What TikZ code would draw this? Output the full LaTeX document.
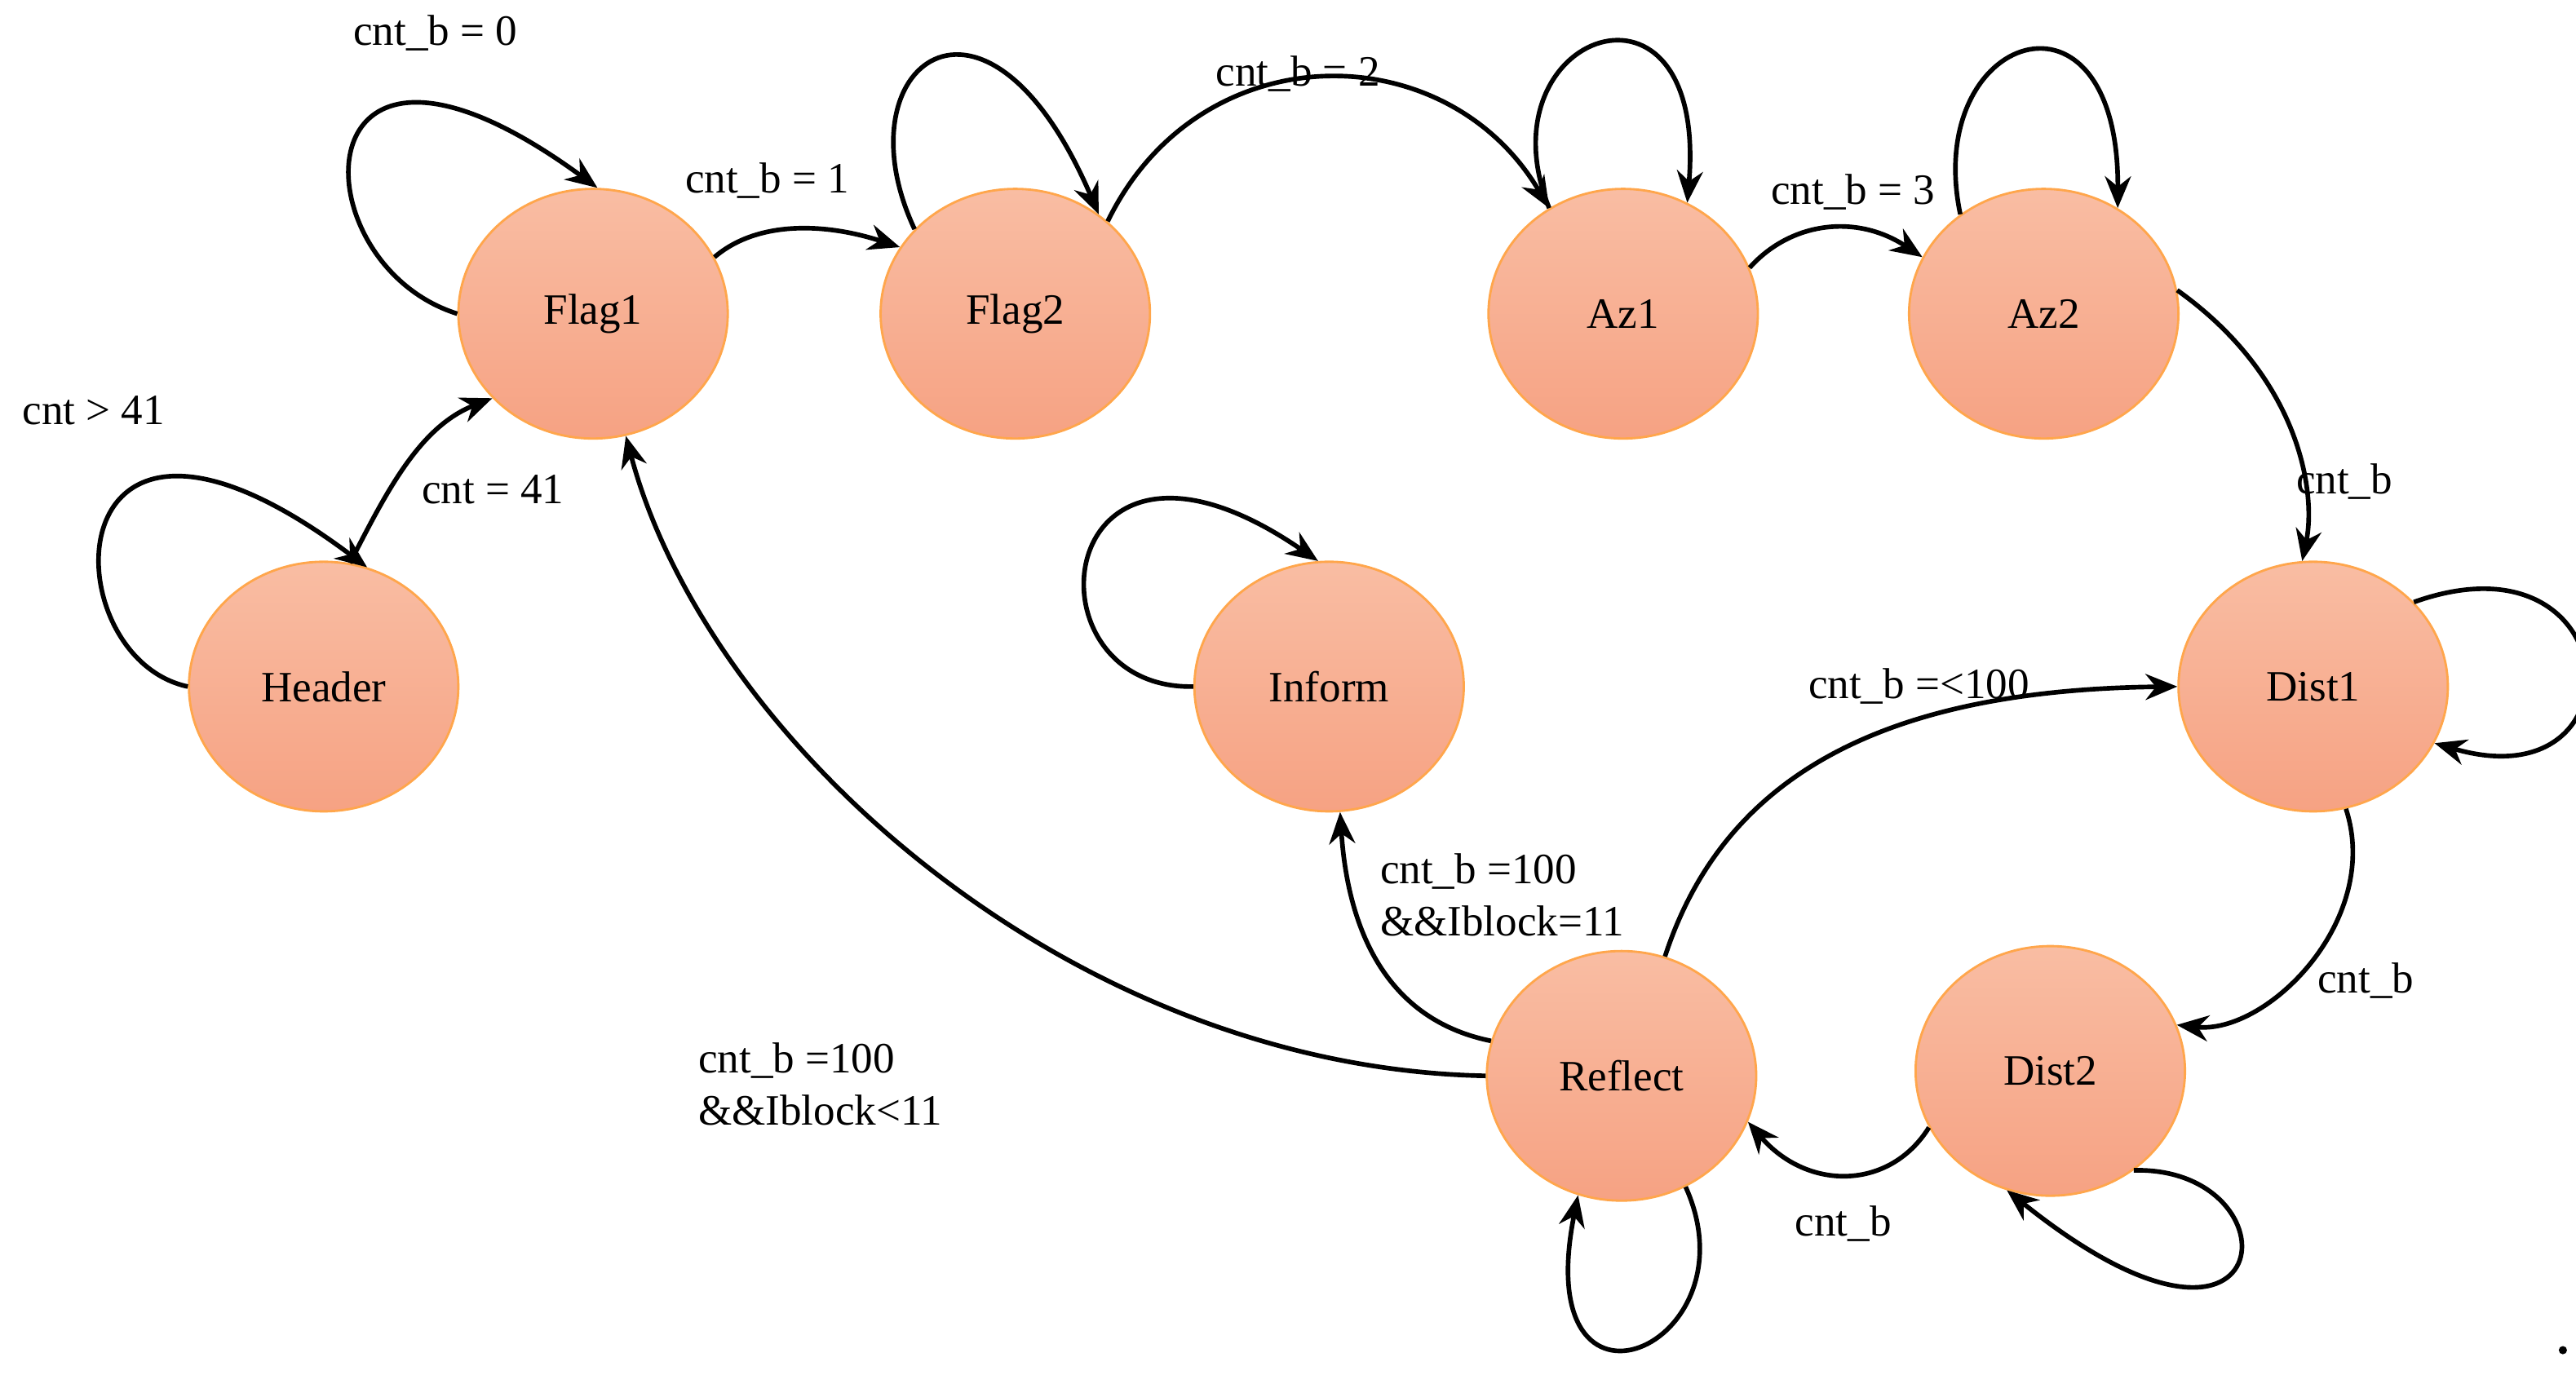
\documentclass[tikz,border=0pt]{standalone}
\usepackage{fontspec}
\setmainfont{Liberation Serif}
\usetikzlibrary{shapes.geometric,arrows.meta}
\begin{document}
\begin{tikzpicture}[x=0.02cm,y=-0.02cm,
  st/.style={ellipse,minimum width=3.28cm,minimum height=3.04cm,draw=orange!70!white,line width=0.8pt,
    top color=stA,bottom color=stB,inner sep=0pt,font=\fontsize{15}{18}\selectfont},
  e/.style={line width=1.6pt,-{Stealth[length=11pt,width=9pt]}},
  lb/.style={font=\fontsize{15}{18}\selectfont,inner sep=1pt}]
\definecolor{stA}{HTML}{F9BDA3}
\definecolor{stB}{HTML}{F6A283}
\useasboundingbox (0,0) rectangle (1568,837);
\node[st] (f1) at (361,191) {Flag1};
\node[st] (f2) at (618,191) {Flag2};
\node[st] (a1) at (988,191) {Az1};
\node[st] (a2) at (1244,191) {Az2};
\node[st] (h) at (197,418) {Header};
\node[st] (in) at (809,418) {Inform};
\node[st] (d1) at (1408,418) {Dist1};
\node[st] (r) at (987,655) {Reflect};
\node[st] (d2) at (1248,652) {Dist2};
% Header
\draw[e] (h.west) .. controls (30,400) and (30,200) .. (h.70);
\draw[e] (h.78) .. controls (235,300) and (255,260) .. (f1.220);
\node[lb] at (57,250) {cnt > 41};
\node[lb] at (300,298) {cnt = 41};
% Flag1
\draw[e] (f1.west) .. controls (180,160) and (180,-20) .. (f1.88);
\node[lb] at (265,20) {cnt\_b = 0};
\draw[e] (f1.25) .. controls (460,135) and (500,135) .. (f2.150);
\node[lb] at (467,110) {cnt\_b = 1};
% Flag2
\draw[e] (f2.140) .. controls (510,40) and (600,-30) .. (f2.50);
\draw[e] (f2.45) .. controls (730,20) and (880,20) .. (a1.125);
\node[lb] at (790,45) {cnt\_b = 2};
% Az1
\draw[e] (a1.125) .. controls (900,20) and (1040,-30) .. (a1.60);
\draw[e] (a1.20) .. controls (1090,135) and (1130,130) .. (a2.155);
\node[lb] at (1128,117) {cnt\_b = 3};
% Az2
\draw[e] (a2.130) .. controls (1170,20) and (1290,-20) .. (a2.55);
\draw[e] (a2.10) .. controls (1400,230) and (1410,300) .. (d1.95);
\node[lb] at (1427,293) {cnt\_b};
% Dist1
\draw[e] (d1.40) .. controls (1600,320) and (1610,490) .. (d1.-25);
\draw[e] (d1.-75) .. controls (1450,560) and (1380,630) .. (d2.20);
\node[lb] at (1440,597) {cnt\_b};
% Dist2
\draw[e] (d2.-50) .. controls (1400,710) and (1390,860) .. (d2.-110);
\draw[e] (d2.205) .. controls (1150,725) and (1100,725) .. (r.-20);
\node[lb] at (1122,745) {cnt\_b};
% Reflect
\draw[e] (r.-60) .. controls (1070,820) and (930,880) .. (r.-110);
\draw[e] (r.70) .. controls (1050,470) and (1150,420) .. (d1.west);
\node[lb] at (1168,418) {cnt\_b =<100};
\draw[e] (r.165) .. controls (840,620) and (820,560) .. (in.-85);
\node[lb,align=left,anchor=west] at (838,545) {cnt\_b =100\\\&\&Iblock=11};
\draw[e] (r.west) .. controls (650,650) and (430,450) .. (f1.-75);
\node[lb,align=left,anchor=west] at (423,660) {cnt\_b =100\\\&\&Iblock<11};
% Inform
\draw[e] (in.west) .. controls (620,420) and (640,230) .. (in.95);
\fill (1560,822) circle (2.5);
\end{tikzpicture}
\end{document}
